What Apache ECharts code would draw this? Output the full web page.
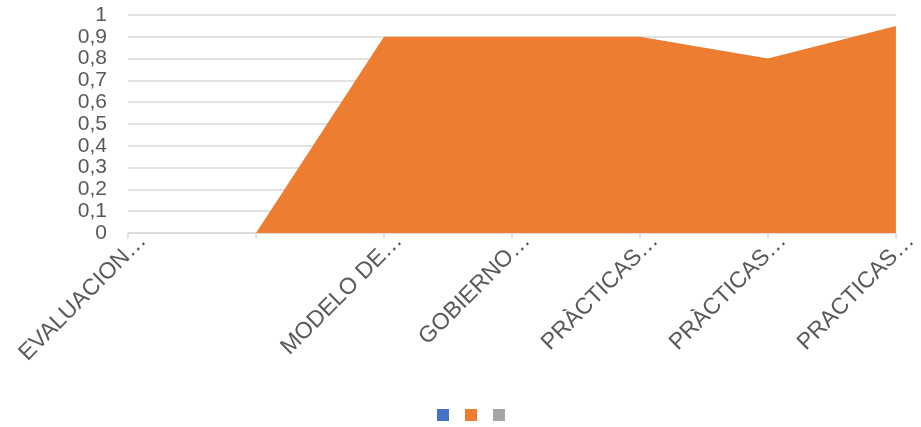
<!DOCTYPE html>
<html><head><meta charset="utf-8">
<script src="https://cdn.jsdelivr.net/npm/echarts@6/dist/echarts.min.js"></script>
<style>html,body{margin:0;padding:0;background:#fff}#c{width:921px;height:427px}</style>
</head><body><div id="c"></div>
<script>
const categories = ["EVALUACION…", "", "MODELO DE…", "GOBIERNO…", "PRÀCTICAS…", "PRÀCTICAS…", "PRACTICAS…"];
const serie1 = [null, null, null, null, null, null, null];
const serie2 = [null, 0, 0.9, 0.9, 0.9, 0.8, 0.95];
const serie3 = [null, null, null, null, null, null, null];
const seriesNames = ["Serie1", "Serie2", "Serie3"];
const colors = ["#4472C4", "#ED7D31", "#A5A5A5"];
const yTicks = [0, 0.1, 0.2, 0.3, 0.4, 0.5, 0.6, 0.7, 0.8, 0.9, 1];

const chart = echarts.init(document.getElementById('c'));
const font = 'Liberation Sans, Arial, sans-serif';
chart.setOption({
  animation: false,
  color: colors,
  grid: {left: 128, right: 21, top: 15, bottom: 194, containLabel: false},
  legend: {
    top: 404, left: 432, icon: 'rect', itemWidth: 12, itemHeight: 12, itemGap: 16,
    data: seriesNames, formatter: () => '', textStyle: {fontSize: 1}
  },
  xAxis: {
    type: 'category', data: categories, boundaryGap: false,
    axisLine: {lineStyle: {color: '#d9d9d9', width: 1.5}},
    axisTick: {show: true, length: 6, lineStyle: {color: '#d9d9d9', width: 1.5}},
    axisLabel: {rotate: 45, color: '#595959', fontSize: 23, fontFamily: font, margin: 19, interval: 0, padding: [0, -21, 0, 0]}
  },
  yAxis: {
    type: 'value', min: 0, max: 1, interval: 0.1,
    axisLine: {show: false}, axisTick: {show: false},
    splitLine: {lineStyle: {color: '#d9d9d9', width: 1.5}},
    axisLabel: {color: '#595959', fontSize: 21, lineHeight: 21, fontFamily: font, margin: 21,
      showMinLabel: true, showMaxLabel: true, hideOverlap: false,
      formatter: v => yTicks.includes(Math.round(v*10)/10) ? String(Math.round(v*10)/10).replace('.', ',') : ''}
  },
  series: [
    {name: seriesNames[0], type: 'line', data: serie1, symbol: 'none', lineStyle: {width: 0}, areaStyle: {color: colors[0], opacity: 1}},
    {name: seriesNames[1], type: 'line', data: serie2, symbol: 'none', lineStyle: {width: 0}, areaStyle: {color: colors[1], opacity: 1}},
    {name: seriesNames[2], type: 'line', data: serie3, symbol: 'none', lineStyle: {width: 0}, areaStyle: {color: colors[2], opacity: 1}}
  ]
});
</script></body></html>
